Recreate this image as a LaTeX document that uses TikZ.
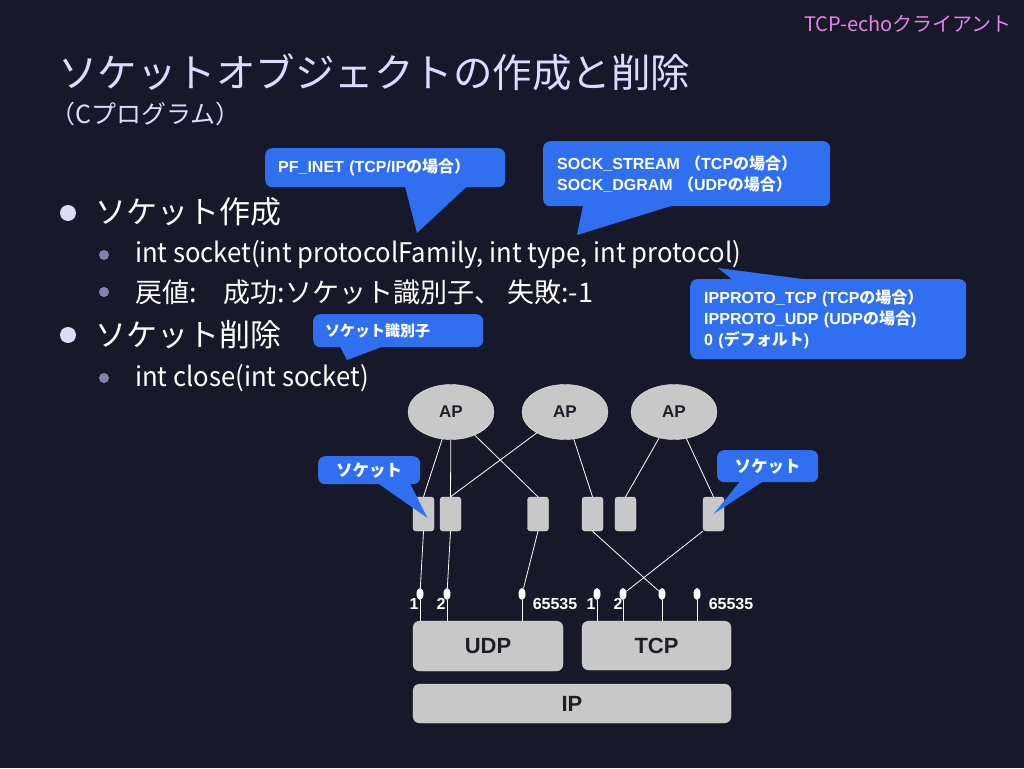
\documentclass[tikz,border=0pt]{standalone}
\usepackage{fontspec}
\setmainfont{Liberation Sans}
\newfontfamily\jp{Noto Sans CJK JP}
\newfontfamily\jpnarrow[FakeStretch=0.95]{Noto Sans CJK JP}
\usetikzlibrary{shapes.geometric}
\definecolor{slidebg}{RGB}{23,25,42}
\definecolor{callout}{RGB}{48,112,240}
\definecolor{titlecol}{RGB}{220,220,255}
\definecolor{boxgrey}{RGB}{200,200,200}
\definecolor{boxtext}{RGB}{30,30,40}
\definecolor{pinkcol}{RGB}{230,130,230}
\definecolor{dotbig}{RGB}{220,220,245}
\definecolor{dotsmall}{RGB}{130,130,170}

\begin{document}
\begin{tikzpicture}[x=1pt,y=-1pt,
  ap/.style={ellipse, draw=white!80!gray, fill=boxgrey, minimum width=86pt, minimum height=55pt, inner sep=0pt, text=boxtext, font=\fontsize{17}{17}\selectfont\bfseries},
  sock/.style={rectangle, rounded corners=3pt, draw=white!80!gray, fill=boxgrey, minimum width=21pt, minimum height=34pt, inner sep=0pt},
  port/.style={ellipse, fill=white, minimum width=7pt, minimum height=12pt, inner sep=0pt},
  layer/.style={rectangle, rounded corners=7pt, draw=white!80!gray, fill=boxgrey, inner sep=0pt, text=boxtext, font=\fontsize{22}{22}\selectfont\bfseries},
  num/.style={text=white, inner sep=0pt, font=\fontsize{16}{16}\selectfont\bfseries},
  bubble/.style={fill=callout, rounded corners=7pt, text=white, inner sep=0pt, anchor=north west, font=\fontsize{16}{21}\selectfont\bfseries},
  wire/.style={white, line width=0.8pt},
  lvlone/.style={anchor=west, inner sep=0pt, text=white, font=\jp\fontsize{31}{31}\selectfont},
  lvltwo/.style={anchor=west, inner sep=0pt, text=white, font=\jp\fontsize{27}{27}\selectfont},
  bigdot/.style={circle, fill=dotbig, minimum size=16pt, inner sep=0pt},
  smalldot/.style={circle, fill=dotsmall, minimum size=10pt, inner sep=0pt}]
\fill[slidebg] (0,0) rectangle (1024,768);
\useasboundingbox (0,0) rectangle (1024,768);

% heading
\node[anchor=west, inner sep=0pt, text=titlecol, font=\jp\fontsize{39.5}{40}\selectfont] (title) at (58,72) {ソケットオブジェクトの作成と削除};
\node[anchor=west, inner sep=0pt, text=titlecol, font=\jp\fontsize{25}{25}\selectfont] (subtitle) at (50,114) {（Cプログラム）};
\node[anchor=east, inner sep=0pt, text=pinkcol, font=\jp\fontsize{20}{20}\selectfont] (corner) at (1012,24) {TCP-echoクライアント};

% bullet list
\node[bigdot] (d1) at (68,213) {};
\node[lvlone] (t1) at (95,212) {ソケット作成};
\node[smalldot] (d11) at (104,255) {};
\node[lvltwo, font=\jpnarrow\fontsize{27}{27}\selectfont] (t11) at (135,255) {int socket(int protocolFamily, int type, int protocol)};
\node[smalldot] (d12) at (104,292) {};
\node[lvltwo] (t12) at (135,292) {戻値:　成功:ソケット識別子、 失敗:-1};
\node[bigdot] (d2) at (68,335) {};
\node[lvlone] (t2) at (95,335) {ソケット削除};
\node[smalldot] (d21) at (104,378) {};
\node[lvltwo, font=\jpnarrow\fontsize{27}{27}\selectfont] (t21) at (135,378) {int close(int socket)};

% applications
\node[ap] (a1) at (451,412) {AP};
\node[ap] (a2) at (565,412) {AP};
\node[ap] (a3) at (674,412) {AP};

% sockets
\node[sock] (s1) at (423.5,514) {};
\node[sock] (s2) at (450.5,514) {};
\node[sock] (s3) at (538,514) {};
\node[sock] (s4) at (592.5,514) {};
\node[sock] (s5) at (625.5,514) {};
\node[sock] (s6) at (713.5,514) {};

% protocol layers
\node[layer, minimum width=150pt, minimum height=50pt] (udp) at (488,646) {UDP};
\node[layer, minimum width=149pt, minimum height=49pt] (tcp) at (656.5,645.5) {TCP};
\node[layer, minimum width=318pt, minimum height=39pt] (ip) at (572,703.5) {IP};

% ports
\node[port] (p1) at (420,594) {};
\node[port] (p2) at (447,594) {};
\node[port] (p3) at (522,594) {};
\node[port] (q1) at (597,594) {};
\node[port] (q2) at (623,594) {};
\node[port] (q3) at (662,594) {};
\node[port] (q4) at (697,594) {};
\node[num] (n1) at (414,604) {1};
\node[num] (n2) at (441,604) {2};
\node[num] (n3) at (555,604) {65535};
\node[num] (m1) at (591,604) {1};
\node[num] (m2) at (618,604) {2};
\node[num] (m4) at (731,604) {65535};

\draw[wire] (p1) -- (p1 |- udp.north);
\draw[wire] (p2) -- (p2 |- udp.north);
\draw[wire] (p3) -- (p3 |- udp.north);
\draw[wire] (q1) -- (q1 |- tcp.north);
\draw[wire] (q2) -- (q2 |- tcp.north);
\draw[wire] (q3) -- (q3 |- tcp.north);
\draw[wire] (q4) -- (q4 |- tcp.north);

\draw[wire] (a1) -- (s1.north);
\draw[wire] (a1) -- (s2.north);
\draw[wire] (a1) -- (s3.north);
\draw[wire] (a2) -- (s2.north);
\draw[wire] (a2) -- (s4.north);
\draw[wire] (a3) -- (s5.north);
\draw[wire] (a3) -- (s6.north);

\draw[wire] (s1.south) -- (p1);
\draw[wire] (s2.south) -- (p2);
\draw[wire] (s3.south) -- (p3);
\draw[wire] (s4.south) -- (q3);
\draw[wire] (s6.south west) -- (q2);

% callouts
\node[bubble, minimum height=39pt, text width=214pt, inner xsep=13pt, align=left] (pf) at (265,148) {PF\_INET (TCP/IP{\jp の場合）}};
\coordinate (pftip) at (417,233);
\fill[callout] ([xshift=140pt,yshift=1pt]pf.south west) -- (pftip) -- ([xshift=202pt,yshift=1pt]pf.south west) -- cycle;

\node[bubble, minimum height=65pt, text width=259pt, inner xsep=14pt, align=left] (stype) at (543,141) {SOCK\_STREAM {\jp （}TCP{\jp の場合）}\\SOCK\_DGRAM {\jp （}UDP{\jp の場合）}};
\coordinate (stypetip) at (577,235);
\fill[callout] ([xshift=40pt,yshift=1pt]stype.south west) -- (stypetip) -- ([xshift=130pt,yshift=1pt]stype.south west) -- cycle;

\node[bubble, minimum height=80pt, text width=248pt, inner xsep=14pt, align=left] (proto) at (690,279) {IPPROTO\_TCP (TCP{\jp の場合）}\\IPPROTO\_UDP (UDP{\jp の場合})\\0 ({\jp デフォルト})};
\coordinate (prototip) at (718,268);
\fill[callout] ([xshift=43pt,yshift=-1pt]proto.north west) -- (prototip) -- ([xshift=120pt,yshift=-1pt]proto.north west) -- cycle;

\node[bubble, minimum height=33pt, text width=146pt, inner xsep=12pt, align=left, font=\jp\fontsize{15}{15}\selectfont\bfseries] (sid) at (313,314) {ソケット識別子};
\coordinate (sidtip) at (347,360);
\fill[callout] ([xshift=27pt,yshift=1pt]sid.south west) -- (sidtip) -- ([xshift=70pt,yshift=1pt]sid.south west) -- cycle;

\node[bubble, minimum width=102pt, minimum height=28pt, font=\jp\fontsize{16.5}{16.5}\selectfont\bfseries] (sl) at (318,456) {ソケット};
\coordinate (sltip) at ([xshift=4pt,yshift=-4pt]s1.center);
\fill[callout] ([xshift=60pt,yshift=1pt]sl.south west) -- (sltip) -- ([xshift=92pt,yshift=1pt]sl.south west) -- cycle;

\node[bubble, minimum width=101pt, minimum height=32pt, font=\jp\fontsize{16.5}{16.5}\selectfont\bfseries] (sr) at (717,450) {ソケット};
\coordinate (srtip) at (s6.center);
\fill[callout] ([xshift=23pt,yshift=1pt]sr.south west) -- (srtip) -- ([xshift=46pt,yshift=1pt]sr.south west) -- cycle;
\end{tikzpicture}
\end{document}
